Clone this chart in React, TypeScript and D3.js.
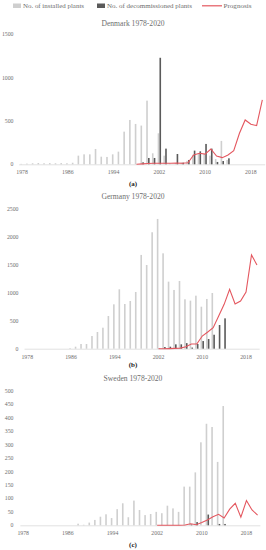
import React from "react";
import * as d3 from "d3";

const years = [
  1978, 1979, 1980, 1981, 1982, 1983, 1984, 1985, 1986, 1987, 1988, 1989, 1990,
  1991, 1992, 1993, 1994, 1995, 1996, 1997, 1998, 1999, 2000, 2001, 2002, 2003,
  2004, 2005, 2006, 2007, 2008, 2009, 2010, 2011, 2012, 2013, 2014, 2015, 2016,
  2017, 2018, 2019, 2020,
];
const xTickYears = [1978, 1986, 1994, 2002, 2010, 2018];

// Denmark, 1978..2020 (null = no value)
const dkInstalled = [
  5, 8, 12, 15, 12, 14, 12, 14, 12, 18, 100, 115, 115, 177, 88, 85, 115, 146,
  377, 512, 466, 447, 735, 127, 358, 100, 10, 15, 20, 40, 110, 120, 120, 100, 60,
  270, 50, null, null, null, null, null, null,
];
const dkDecommissioned = [
  null, null, null, null, null, null, null, null, null, null, null, null, null,
  null, null, null, null, null, null, null, null, 23, 73, 73, 1230, 181, null,
  119, 19, 50, 158, 150, 235, 181, 27, 38, 69, null, null, null, null, null, null,
];
const dkPrognosis = [
  null, null, null, null, null, null, null, null, null, null, null, null, null,
  null, null, null, null, null, null, null, 0, 5, 10, 12, 12, 12, 12, 14, 12, 18,
  108, 127, 118, 177, 96, 77, 108, 158, 358, 512, 462, 447, 743,
];
const dkTicks = [0, 500, 1000, 1500];

// Germany
const deInstalled = [
  null, null, null, null, null, null, null, null, 10, 36, 84, 84, 227, 299, 376,
  585, 794, 1063, 800, 854, 1015, 1678, 1498, 2084, 2322, 1707, 1200, 1051, 1212,
  884, 860, 949, 752, 890, 997, null, null, null, null, null, null, null, null,
];
const deDecommissioned = [
  null, null, null, null, null, null, null, null, null, null, null, null, null,
  null, null, null, null, null, null, null, null, null, null, null, 5, 30, 36, 78,
  78, 100, 20, 84, 137, 173, 250, 424, 543, null, null, null, null, null, null,
];
const dePrognosis = [
  null, null, null, null, null, null, null, null, null, null, null, null, null,
  null, null, null, null, null, null, null, null, null, null, null, 0, 0, 2, 5, 10,
  36, 84, 84, 227, 299, 376, 585, 794, 1063, 800, 854, 1015, 1678, 1498,
];
const deTicks = [0, 500, 1000, 1500, 2000, 2500];

// Sweden
const seInstalled = [
  null, null, null, null, null, null, null, null, null, null, 6, 2, 10, 20, 32, 41,
  27, 60, 82, 30, 92, 57, 38, 42, 50, 45, 73, 63, 50, 144, 144, 197, 309, 378,
  366, 236, 444, null, null, null, null, null, null,
];
const seDecommissioned = [
  null, null, null, null, null, null, null, null, null, null, null, null, null,
  null, null, null, null, null, null, null, null, null, null, null, null, null,
  null, null, null, null, 3, 12, null, 40, null, 5, 5, null, null, null, null,
  null, null,
];
const sePrognosis = [
  null, null, null, null, null, null, null, null, null, null, null, null, null,
  null, null, null, null, null, null, null, null, null, null, null, 0, 0, 0, 0, 0,
  1, 6, 2, 10, 20, 32, 41, 27, 60, 82, 30, 92, 57, 38,
];
const seTicks = [0, 50, 100, 150, 200, 250, 300, 350, 400, 450, 500];

const LIGHT = "#cfcfcf";
const DARK = "#5a5a5a";
const RED = "#e4575f";
const TEXT = "#6e6e6e";
const FONT = "'Liberation Serif', 'DejaVu Serif', serif";

type PanelProps = {
  title: string;
  letter: string;
  installed: (number | null)[];
  decommissioned: (number | null)[];
  prognosis: (number | null)[];
  ticks: number[];
  x0: number;
  x1: number;
  yTop: number;
  yBase: number;
  labelRight: number;
  titleY: number;
  letterY: number;
};

function Panel(p: PanelProps) {
  const x = d3.scaleBand<number>().domain(years).range([p.x0, p.x1]);
  const max = p.ticks[p.ticks.length - 1];
  const y = d3.scaleLinear().domain([0, max]).range([p.yBase, p.yTop]);
  const bw = 1.6;
  const cx = (yr: number) => (x(yr) as number) + x.bandwidth() / 2;

  const pts = years.map((yr, i) => ({ yr, v: p.prognosis[i] }));
  const path = d3
    .line<{ yr: number; v: number | null }>()
    .defined((d) => d.v != null)
    .x((d) => cx(d.yr))
    .y((d) => y(d.v as number))(pts);

  return (
    <g>
      <text x={133} y={p.titleY} textAnchor="middle" fontSize={7.6} fill={TEXT}>
        {p.title}
      </text>
      {p.ticks.map((t) => (
        <text
          key={t}
          x={p.labelRight}
          y={y(t) + 2}
          textAnchor="end"
          fontSize={5.8}
          fill={TEXT}
        >
          {t}
        </text>
      ))}
      <line x1={p.x0} x2={p.x1} y1={p.yBase + 0.5} y2={p.yBase + 0.5} stroke="#d9d9d9" strokeWidth={0.8} />
      {years.map((yr, i) => {
        const v = p.installed[i];
        if (v == null) return null;
        return (
          <rect key={"i" + yr} x={cx(yr) - bw - 0.1} y={y(v)} width={bw} height={p.yBase - y(v)} fill={LIGHT} />
        );
      })}
      {years.map((yr, i) => {
        const v = p.decommissioned[i];
        if (v == null) return null;
        return (
          <rect key={"d" + yr} x={cx(yr) + 0.1} y={y(v)} width={bw} height={p.yBase - y(v)} fill={DARK} />
        );
      })}
      <path d={path || ""} fill="none" stroke={RED} strokeWidth={1.1} />
      {xTickYears.map((yr) => (
        <text key={yr} x={cx(yr)} y={p.yBase + 10} textAnchor="middle" fontSize={5.8} fill={TEXT}>
          {yr}
        </text>
      ))}
      <text x={133} y={p.letterY} textAnchor="middle" fontSize={7} fontWeight="bold" fill="#222">
        {p.letter}
      </text>
    </g>
  );
}

export default function App() {
  return (
    <svg
      width={266}
      height={550}
      style={{ position: "absolute", left: 0, top: 0, background: "#fff" }}
      fontFamily={FONT}
    >
      <rect x={13} y={3.5} width={8} height={4.5} fill={LIGHT} />
      <text x={23} y={8.2} fontSize={6.8} fill={TEXT} textLength={61} lengthAdjust="spacingAndGlyphs">
        No. of installed plants
      </text>
      <rect x={97} y={3.5} width={8} height={4.5} fill={DARK} />
      <text x={107} y={8.2} fontSize={6.8} fill={TEXT} textLength={85} lengthAdjust="spacingAndGlyphs">
        No. of decommissioned plants
      </text>
      <line x1={202} x2={222} y1={5.8} y2={5.8} stroke={RED} strokeWidth={1.2} />
      <text x={223.5} y={8.2} fontSize={6.8} fill={TEXT} textLength={28} lengthAdjust="spacingAndGlyphs">
        Prognosis
      </text>

      <Panel
        title="Denmark 1978-2020"
        letter="(a)"
        installed={dkInstalled}
        decommissioned={dkDecommissioned}
        prognosis={dkPrognosis}
        ticks={dkTicks}
        x0={19.2}
        x1={265.2}
        yTop={34.4}
        yBase={164.3}
        labelRight={13.5}
        titleY={25.5}
        letterY={185.5}
      />
      <Panel
        title="Germany 1978-2020"
        letter="(b)"
        installed={deInstalled}
        decommissioned={deDecommissioned}
        prognosis={dePrognosis}
        ticks={deTicks}
        x0={24.5}
        x1={259.7}
        yTop={209}
        yBase={348.7}
        labelRight={18.5}
        titleY={198.5}
        letterY={366.5}
      />
      <Panel
        title="Sweden 1978-2020"
        letter="(c)"
        installed={seInstalled}
        decommissioned={seDecommissioned}
        prognosis={sePrognosis}
        ticks={seTicks}
        x0={20.4}
        x1={260.4}
        yTop={391}
        yBase={525.3}
        labelRight={13.5}
        titleY={380.5}
        letterY={546.5}
      />
    </svg>
  );
}
